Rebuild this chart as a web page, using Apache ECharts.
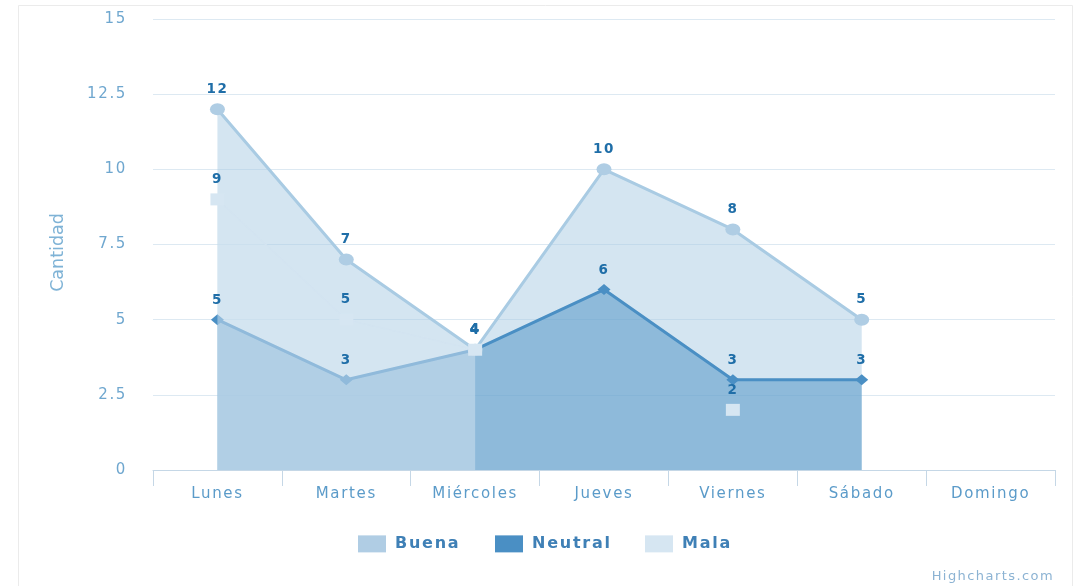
<!DOCTYPE html>
<html><head><meta charset="utf-8">
<script src="https://cdn.jsdelivr.net/npm/echarts@6/dist/echarts.min.js"></script>
<style>html,body{margin:0;padding:0;background:#fff}#c{width:1079px;height:586px}</style>
</head><body><div id="c"></div>
<script>
var categories = ['Lunes','Martes','Miércoles','Jueves','Viernes','Sábado','Domingo'];
var buena = [12, 7, 4, 10, 8, 5, null];
var neutral = [5, 3, 4, 6, 3, 3, null];
var mala = [9, 5, 4, null, 2, null, null];
var yTicks = [0, 2.5, 5, 7.5, 10, 12.5, 15];
var seriesNames = ['Buena', 'Neutral', 'Mala'];

// The reference text is drawn slightly wide: add letter spacing proportional to font size
(function () {
  var proto = window.CanvasRenderingContext2D && CanvasRenderingContext2D.prototype;
  if (!proto) return;
  var fd = Object.getOwnPropertyDescriptor(proto, 'font');
  var ld = Object.getOwnPropertyDescriptor(proto, 'letterSpacing');
  if (!fd || !ld) return;
  Object.defineProperty(proto, 'font', {
    configurable: true, get: fd.get,
    set: function (v) {
      fd.set.call(this, v);
      var m = /(\d+(?:\.\d+)?)px/.exec(v);
      var sp = (m && v.indexOf('sans-serif') < 0) ? (parseFloat(m[1]) * 0.11).toFixed(2) + 'px' : '0px';
      try { ld.set.call(this, sp); } catch (e) {}
    }
  });
})();

var FONT = 'DejaVu Sans';
var chart = echarts.init(document.getElementById('c'));
function lbl(show) {
  return {show: show, position: 'top', distance: 6, color: '#1f6ea8', fontWeight: 'bold', fontSize: 13.5, fontFamily: FONT};
}
function legendAt(left, name, color) {
  return {
    left: left, top: 530, itemWidth: 28, itemHeight: 17, icon: 'rect',
    textStyle: {color: '#3f80b6', fontWeight: 'bold', fontSize: 16, fontFamily: FONT, padding: [0, 0, 0, 4]},
    data: [{name: name, itemStyle: {color: color}}]
  };
}
chart.setOption({
  animation: false,
  graphic: [
    {type: 'rect', shape: {x: 18.5, y: 5.5, width: 1054, height: 600}, style: {fill: 'none', stroke: '#ebebeb', lineWidth: 1}, z: -10},
    {type: 'text', right: 25, top: 569, style: {text: 'Highcharts.com', fill: '#8cb3d3', fontSize: 13, fontFamily: FONT}}
  ],
  grid: {left: 153, right: 24, top: 19, bottom: 116},
  legend: [
    legendAt(353, seriesNames[0], '#b0cde4'),
    legendAt(490, seriesNames[1], '#4a8fc4'),
    legendAt(640, seriesNames[2], '#d6e6f2')
  ],
  xAxis: {
    type: 'category', data: categories, boundaryGap: true,
    axisLine: {lineStyle: {color: '#c5d7e6', width: 1}},
    axisTick: {show: true, length: 16, lineStyle: {color: '#c5d7e6'}},
    axisLabel: {color: '#5b9bc9', fontSize: 15, fontFamily: FONT, margin: 16}
  },
  yAxis: {
    type: 'value', min: 0, max: 15, interval: 2.5,
    name: 'Cantidad', nameLocation: 'middle', nameGap: 86, nameRotate: 90,
    nameTextStyle: {color: '#7fb3d6', fontSize: 17.5, fontFamily: '"DejaVu Sans", sans-serif', padding: [0, 16, 0, 0]},
    axisLine: {show: false}, axisTick: {show: false},
    splitLine: {lineStyle: {color: '#dde9f2', width: 1}},
    axisLabel: {color: '#6fa7cf', fontSize: 15, fontFamily: FONT, margin: 26,
      formatter: function (v) { return yTicks.indexOf(v) >= 0 ? String(v) : ''; }}
  },
  series: [
    {name: seriesNames[0], type: 'line', data: buena, symbol: 'circle', symbolSize: [15, 12], z: 2,
     itemStyle: {color: '#afcde4'}, lineStyle: {color: '#a9cbe3', width: 3},
     areaStyle: {color: '#a9cbe3', opacity: 0.5}, label: lbl(true)},
    {name: seriesNames[1], type: 'line', data: neutral, symbol: 'diamond', symbolSize: [13, 11], z: 2,
     itemStyle: {color: '#4a8fc4'}, lineStyle: {color: '#4a8fc4', width: 3},
     areaStyle: {color: '#4a8fc4', opacity: 0.5}, label: lbl(false)},
    {name: seriesNames[2], type: 'line', data: mala, symbol: 'rect', symbolSize: [14, 12], z: 3,
     itemStyle: {color: '#d6e6f2'}, lineStyle: {color: '#d3e4f1', width: 1.5},
     areaStyle: {color: '#d6e6f2', opacity: 0.5}, label: lbl(true)},
    // value labels of the Neutral series, kept above the Mala fill
    {name: seriesNames[1], type: 'line', data: neutral, symbol: 'diamond', symbolSize: [13, 11], z: 4,
     itemStyle: {color: 'rgba(0,0,0,0)'}, lineStyle: {opacity: 0, width: 0},
     label: lbl(true), silent: true}
  ]
});
</script></body></html>
